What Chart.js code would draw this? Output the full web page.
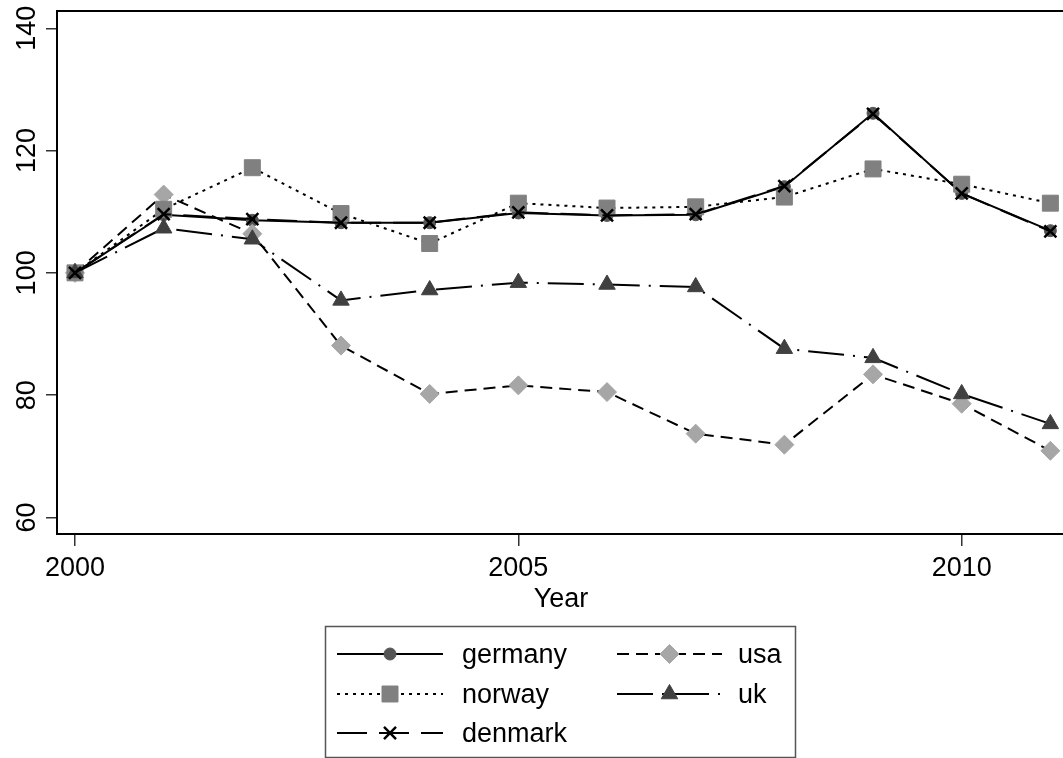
<!DOCTYPE html>
<html><head><meta charset="utf-8">
<script src="https://cdn.jsdelivr.net/npm/chart.js@4.4.0/dist/chart.umd.min.js"></script>
<style>html,body{margin:0;padding:0;background:#fff;overflow:hidden;width:1063px;height:758px}
#wrap{position:relative;width:1066px;height:758px}</style>
</head><body><div id="wrap"><canvas id="c" width="1066" height="758"></canvas></div>
<script>
const years   = [2000,2001,2002,2003,2004,2005,2006,2007,2008,2009,2010,2011];
const germany = [100,109.5,108.6,108.2,108.2,109.8,109.4,109.5,114.1,126.1,113.0,106.9];
const norway  = [100,110.4,117.2,109.7,104.8,111.4,110.6,110.8,112.4,117.0,114.5,111.4];
const denmark = [100,109.6,108.8,108.2,108.2,109.9,109.4,109.6,114.2,126.0,113.0,106.8];
const usa     = [100,112.8,106.4,88.1,80.2,81.6,80.5,73.7,71.9,83.4,78.6,70.9];
const uk      = [100,107.3,105.5,95.5,97.2,98.4,98.1,97.7,87.6,86.1,80.2,75.3];
const yTicks  = [60,80,100,120,140];
const xTicks  = [2000,2005,2010];
const xTitle  = 'Year';

const FONT = '"Liberation Sans", Arial, sans-serif';
const styles = {
  germany:{dash:[],          marker:'circle',   r:6,   fill:'#555555', stroke:'#555555', bw:1},
  norway: {dash:[3,5],       marker:'rect',     r:11.3,fill:'#808080', stroke:'#808080', bw:1},
  denmark:{dash:[30,12],     marker:'crossRot', r:8.5, fill:'#000000', stroke:'#000000', bw:2.5},
  usa:    {dash:[12,7],      marker:'rectRot',  r:9.5, fill:'#a6a6a6', stroke:'#a6a6a6', bw:1},
  uk:     {dash:[36,9,2,9],  marker:'triangle', r:9.5, fill:'#404040', stroke:'#404040', bw:1}
};
const seriesData = {germany, norway, denmark, usa, uk};
const drawOrder = {germany:4, usa:3, norway:2, uk:1, denmark:0};

function mkDs(name){
  const s = styles[name];
  return {
    label:name,
    data: years.map((x,i)=>({x, y:seriesData[name][i]})),
    borderColor:'#000', borderWidth:2, borderDash:s.dash, tension:0,
    pointStyle:s.marker, pointRadius:s.r, pointBackgroundColor:s.fill,
    pointBorderColor:s.stroke, pointBorderWidth:s.bw, pointHoverRadius:s.r,
    order: drawOrder[name], fill:false
  };
}

function drawMarker(ctx, s, x, y){
  ctx.save();
  ctx.fillStyle = s.fill; ctx.strokeStyle = s.stroke; ctx.lineWidth = s.bw; ctx.setLineDash([]);
  ctx.beginPath();
  const r = s.r;
  if (s.marker==='circle'){ ctx.arc(x,y,r,0,Math.PI*2); ctx.fill(); ctx.stroke(); }
  else if (s.marker==='rect'){ const h=r*Math.SQRT1_2; ctx.rect(x-h,y-h,2*h,2*h); ctx.fill(); ctx.stroke(); }
  else if (s.marker==='rectRot'){ ctx.moveTo(x-r,y); ctx.lineTo(x,y-r); ctx.lineTo(x+r,y); ctx.lineTo(x,y+r); ctx.closePath(); ctx.fill(); ctx.stroke(); }
  else if (s.marker==='triangle'){ ctx.moveTo(x,y-r); ctx.lineTo(x+r*0.866,y+r/2); ctx.lineTo(x-r*0.866,y+r/2); ctx.closePath(); ctx.fill(); ctx.stroke(); }
  else if (s.marker==='crossRot'){ const h=r*Math.SQRT1_2; ctx.moveTo(x-h,y-h); ctx.lineTo(x+h,y+h); ctx.moveTo(x+h,y-h); ctx.lineTo(x-h,y+h); ctx.stroke(); }
  ctx.restore();
}

const legendLayout = [
  {name:'germany', x0:337, x1:443, tx:462, y:654},
  {name:'norway',  x0:337, x1:443, tx:462, y:694},
  {name:'denmark', x0:337, x1:443, tx:462, y:733},
  {name:'usa',     x0:617, x1:722, tx:738, y:654},
  {name:'uk',      x0:617, x1:722, tx:738, y:694}
];

const custom = {
  id:'custom',
  afterDraw(chart){
    const ctx = chart.ctx, a = chart.chartArea, ys = chart.scales.y;
    ctx.save();
    ctx.strokeStyle = '#000'; ctx.lineWidth = 2; ctx.setLineDash([]);
    ctx.strokeRect(a.left, a.top, a.right - a.left, a.bottom - a.top);
    ctx.fillStyle = '#000';
    ctx.font = '27px ' + FONT;
    ctx.textAlign = 'center'; ctx.textBaseline = 'alphabetic';
    yTicks.forEach(v => {
      const y = ys.getPixelForValue(v);
      ctx.save(); ctx.translate(35, y); ctx.rotate(-Math.PI/2); ctx.fillText(String(v), 0, 0); ctx.restore();
    });
    // legend box
    ctx.strokeStyle = '#555'; ctx.lineWidth = 1.5;
    ctx.strokeRect(325.5, 626.5, 470, 131);
    legendLayout.forEach(L => {
      const s = styles[L.name];
      ctx.save();
      ctx.strokeStyle = '#000'; ctx.lineWidth = 2; ctx.setLineDash(s.dash);
      ctx.beginPath(); ctx.moveTo(L.x0, L.y); ctx.lineTo(L.x1, L.y); ctx.stroke();
      ctx.restore();
      drawMarker(ctx, s, (L.x0 + L.x1)/2, L.y);
      ctx.fillStyle = '#000'; ctx.textAlign = 'left'; ctx.textBaseline = 'alphabetic';
      ctx.font = '27px ' + FONT;
      ctx.fillText(L.name, L.tx, L.y + 9);
    });
    ctx.restore();
  }
};

new Chart(document.getElementById('c'), {
  type:'line',
  data:{ datasets: ['germany','norway','denmark','usa','uk'].map(mkDs) },
  options:{
    responsive:false, animation:false, devicePixelRatio:1,
    layout:{ autoPadding:false, padding:{ top:11, right:1, bottom:134, left:0 } },
    plugins:{ legend:{display:false}, tooltip:{enabled:false} },
    scales:{
      x:{ type:'linear', min:1999.797, max:2011.165,
        afterBuildTicks: s => { s.ticks = xTicks.map(v => ({value:v})); },
        afterFit: s => { s.height = 90; s.paddingLeft = 0; s.paddingRight = 0; },
        grid:{ display:true, drawOnChartArea:false, drawTicks:true, tickLength:12, color:'#333', lineWidth:1.5 },
        border:{ display:false },
        ticks:{ font:{family:FONT, size:27}, color:'#000', padding:6, maxRotation:0, minRotation:0, autoSkip:false, callback: v => String(v) },
        title:{ display:true, text:xTitle, font:{family:FONT, size:27}, color:'#000', padding:{top:0, bottom:8} }
      },
      y:{ type:'linear', min:57.29, max:142.83,
        afterBuildTicks: s => { s.ticks = yTicks.map(v => ({value:v})); },
        afterFit: s => { s.width = 57; s.paddingTop = 0; s.paddingBottom = 0; },
        grid:{ display:true, drawOnChartArea:false, drawTicks:true, tickLength:11, color:'#333', lineWidth:1.5 },
        border:{ display:false },
        ticks:{ display:false }
      }
    }
  },
  plugins:[custom]
});
</script></body></html>
